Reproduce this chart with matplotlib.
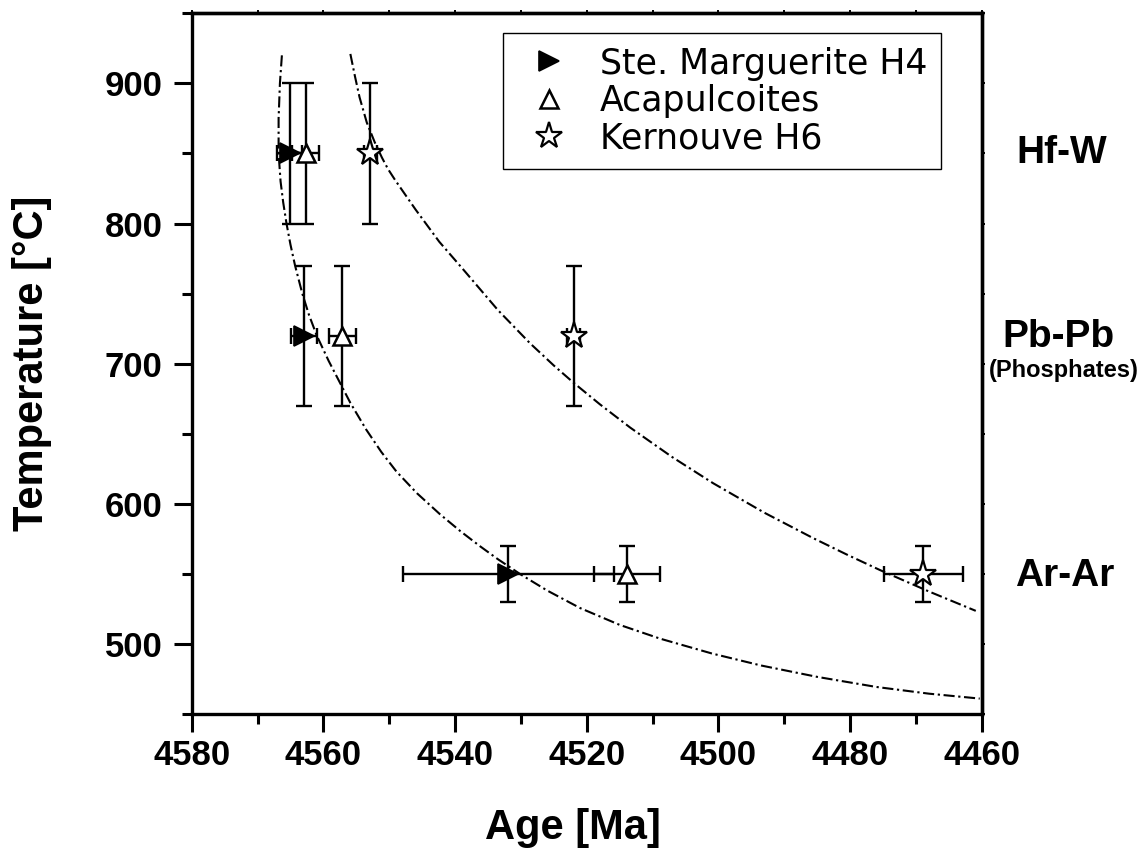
import matplotlib
matplotlib.use("Agg")
import matplotlib.pyplot as plt
from matplotlib.ticker import MultipleLocator

plt.rcParams['font.family'] = ['Liberation Sans', 'DejaVu Sans']
plt.rcParams['lines.scale_dashes'] = False

# ---------------- data ----------------
methods = ["Hf-W", "Pb-Pb", "Ar-Ar"]
temps = [850, 720, 550]
temp_err = [50, 50, 20]

ste_age = [4565.1, 4562.9, 4531.9]
ste_age_err = [1.9, 2.0, 16.0]

aca_age = [4562.7, 4557.1, 4513.9]
aca_age_err = [2.0, 2.0, 5.0]

ker_age = [4552.9, 4522.0, 4468.9]
ker_age_err = [1.0, 1.0, 6.0]

# cooling curves (age, temperature)
curve1_age = [4566.3, 4566.6, 4566.8, 4566.8, 4566.5, 4566.1, 4565.6, 4565.0, 4564.3,
              4563.2, 4562.2, 4561.0, 4559.2, 4555.9, 4553.5, 4551.2, 4548.9, 4545.8,
              4542.3, 4539.2, 4536.2, 4533.5, 4530.0, 4526.0, 4521.0, 4515.0, 4508.8,
              4501.0, 4493.5, 4485.0, 4476.0, 4468.0, 4460.3]
curve1_temp = [920, 900, 875, 850, 830, 815, 800, 785, 770,
               750, 735, 720, 702, 672, 653, 637, 623, 607.6,
               592.6, 580.5, 569.7, 560.5, 549.5, 538.1, 525.6, 513.6, 503.7,
               493.2, 484.6, 476.5, 469.3, 464.5, 461.0]

curve2_age = [4555.9, 4555.2, 4554.5, 4553.4, 4552.2, 4551.1, 4550.2, 4549.1, 4546.0,
              4542.4, 4538.7, 4533.5, 4528.6, 4525.0, 4522.0, 4518.0, 4513.4, 4507.0,
              4500.8, 4493.0, 4485.6, 4480.5, 4475.4, 4468.0, 4460.9]
curve2_temp = [921, 905, 890, 872, 858, 847, 839, 831, 810,
               787, 766.9, 738.3, 714.5, 698.7, 686.4, 671.0, 654.4, 633.3,
               614.7, 593.6, 575.5, 563.8, 552.6, 537.4, 523.6]

xticks = [4580, 4560, 4540, 4520, 4500, 4480, 4460]
yticks = [500, 600, 700, 800, 900]

series_names = ["Ste. Marguerite H4", "Acapulcoites", "Kernouve H6"]

# ---------------- figure ----------------
W, H = 1143, 848
fig = plt.figure(figsize=(W / 100, H / 100), dpi=100)
L, R, T, B = 191.7, 981.7, 13.3, 714.0
ax = fig.add_axes([L / W, (H - B) / H, (R - L) / W, (B - T) / H])

ax.set_xlim(4580, 4460)
ax.set_ylim(450, 950)

dash = [8, 2.6, 1.6, 2.6]
ax.plot(curve1_age, curve1_temp, color='black', lw=1.5, dashes=dash, zorder=2)
ax.plot(curve2_age, curve2_temp, color='black', lw=1.5, dashes=dash, zorder=2)

eb_kw = dict(fmt='none', ecolor='black', elinewidth=1.7, capsize=6, capthick=1.7, zorder=3)
ax.errorbar(ste_age, temps, xerr=ste_age_err, yerr=temp_err, **eb_kw)
ax.errorbar(aca_age, temps, xerr=aca_age_err, yerr=temp_err, **eb_kw)
ax.errorbar(ker_age, temps, xerr=ker_age_err, yerr=temp_err, **eb_kw)

ax.plot(ste_age, temps, linestyle='none', marker='>', ms=15, mfc='black', mec='black',
        mew=1.2, zorder=4, label=series_names[0])
ax.plot(aca_age, temps, linestyle='none', marker='^', ms=13, mfc='white', mec='black',
        mew=1.8, zorder=4, label=series_names[1])
ax.plot(ker_age, temps, linestyle='none', marker='*', ms=20, mfc='white', mec='black',
        mew=1.6, zorder=4, label=series_names[2])

# ticks
ax.set_xticks(xticks)
ax.set_xticklabels([str(v) for v in xticks])
ax.xaxis.set_minor_locator(MultipleLocator(10))
ax.set_yticks(yticks)
ax.set_yticklabels([str(v) for v in yticks])
ax.yaxis.set_minor_locator(MultipleLocator(50))
ax.tick_params(axis='both', which='major', direction='out', length=13, width=2.2,
               labelsize=25, top=False, right=False)
ax.tick_params(axis='both', which='minor', direction='out', length=7, width=2.2,
               top=False, right=False)
ax.tick_params(axis='x', which='major', pad=5)
ax.tick_params(axis='y', which='major', pad=8)
for lab in ax.get_xticklabels() + ax.get_yticklabels():
    lab.set_fontweight('bold')
for sp in ax.spines.values():
    sp.set_linewidth(2.4)

# tiny ticks on top and right
secx = ax.secondary_xaxis('top')
secx.set_xticks(list(range(4580, 4459, -10)))
secx.tick_params(direction='out', length=2.5, width=1.4, labeltop=False)
secx.spines['top'].set_linewidth(2.4)
secy = ax.secondary_yaxis('right')
secy.set_yticks(list(range(450, 951, 50)))
secy.tick_params(direction='out', length=2.5, width=1.4, labelright=False)
secy.spines['right'].set_linewidth(2.4)

# axis labels
fig.text(573 / W, (H - 838.5) / H, "Age [Ma]", ha='center', va='baseline',
         fontsize=30, fontweight='bold')
fig.text(43.3 / W, (H - 363.5) / H, "Temperature [°C]", ha='center', va='baseline',
         rotation=90, rotation_mode='anchor', fontsize=30, fontweight='bold')

# method labels on the right
fig.text(1062 / W, (H - 163) / H, methods[0], ha='center', va='baseline',
         fontsize=28, fontweight='bold')
fig.text(1058.3 / W, (H - 346.7) / H, methods[1], ha='center', va='baseline',
         fontsize=28, fontweight='bold')
fig.text(1064 / W, (H - 377.3) / H, "(Phosphates)", ha='center', va='baseline',
         fontsize=17, fontweight='bold')
fig.text(1064.5 / W, (H - 586) / H, methods[2], ha='center', va='baseline',
         fontsize=28, fontweight='bold')

leg = ax.legend(loc='upper left', bbox_to_anchor=((502.7 - L) / (R - L), (B - 32.7) / (B - T)),
                borderaxespad=0, frameon=True, fancybox=False, framealpha=1,
                edgecolor='black', prop={'family': 'DejaVu Sans', 'size': 25},
                borderpad=0.4, handlelength=1.85, handletextpad=0.55, labelspacing=0.1,
                markerscale=1.0, numpoints=1)
leg.get_frame().set_linewidth(1.0)

fig.savefig('out.png', dpi=100)
